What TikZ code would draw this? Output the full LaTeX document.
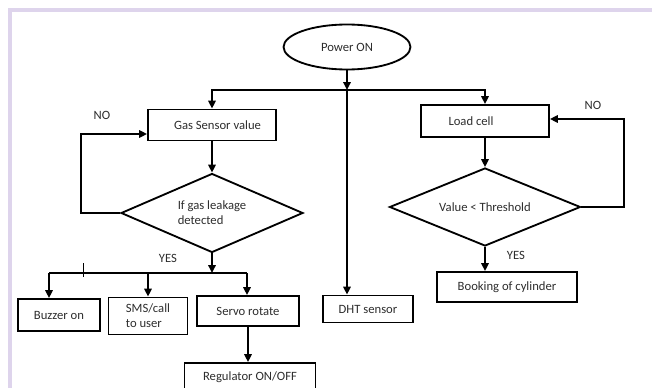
\documentclass[tikz,border=0pt]{standalone}
\usepackage{fontspec}
\setmainfont{Carlito}
\usetikzlibrary{shapes.geometric,arrows.meta}
\definecolor{framelilac}{RGB}{222,212,236}
\definecolor{inkgray}{RGB}{45,45,45}
\newcommand{\flowfont}{\fontsize{7.2}{8.6}\selectfont}

\begin{document}
\begin{tikzpicture}[x=0.02cm, y=-0.02cm,
  every node/.style={font=\flowfont, text=inkgray},
  box/.style={draw, line width=1.05pt, inner sep=1pt},
  decision/.style={draw, diamond, line width=1.05pt, inner sep=0pt, align=left},
  arrow/.style={line width=1.05pt, -{Triangle[length=4.5pt,width=4.2pt]}},
  line/.style={line width=1.05pt}]

\useasboundingbox (0,0) rectangle (652,388);
\clip (0,0) rectangle (652,388);

% page frame
\draw[framelilac, line width=1.8pt] (652,10) -- (10,10) -- (10,388);

\node[draw, ellipse, line width=1.05pt, minimum width=2.54cm, minimum height=0.9cm] (power) at (347,47) {Power ON};

\node[box, minimum width=2.56cm, minimum height=0.62cm] (gas) at (212,125) {\hspace*{0.22cm}Gas Sensor value};
\node[box, minimum width=2.56cm, minimum height=0.64cm] (load) at (485,121) {Load cell\hspace*{0.56cm}};

\node[decision, aspect=2.3, minimum width=3.64cm, minimum height=1.58cm] (gasq) at (212,213) {If gas leakage\\detected};
\node[decision, aspect=2.4, minimum width=3.82cm, minimum height=1.56cm] (loadq) at (485,207) {Value < Threshold};

\node[box, minimum width=1.64cm, minimum height=0.64cm] (buzzer) at (59,315) {Buzzer on};
\node[box, minimum width=1.58cm, minimum height=0.74cm, align=left] (sms) at (148,316) {SMS/call\\to user};
\node[box, minimum width=2.04cm, minimum height=0.6cm] (servo) at (248,311) {Servo rotate};
\node[box, minimum width=1.8cm, minimum height=0.54cm] (dht) at (368,309) {DHT sensor};
\node[box, minimum width=2.8cm, minimum height=0.6cm] (booking) at (507,287) {Booking of cylinder};
\node[box, minimum width=2.62cm, minimum height=0.56cm] (reg) at (250,377) {Regulator ON/OFF};

% labels
\node (noGas) at (102,115) {NO};
\node (noLoad) at (593,105) {NO};
\node (yesGas) at (168,258) {YES};
\node (yesLoad) at (516,255) {YES};

\coordinate (split) at (347,90);
\coordinate (gasNO) at (81,134);
\coordinate (loadNO) at (624,119);
\coordinate (yesbar) at (212,273);
\coordinate (barL) at (49,273);
\coordinate (barR) at (247,273);

\draw[arrow] (power.south) -- (split);
\draw[arrow] (split) -| (gas.north);
\draw[arrow] (split) -| (load.north);
\draw[arrow] (split) -- (split |- dht.north);

\draw[arrow] (gas.south) -- (gasq.north);
\draw[arrow] (gasq.west) -| (gasNO) -- (gasNO -| gas.west);
\draw[arrow] (load.south) -- (loadq.north);
\draw[arrow] (loadq.east) -| (loadNO) -- (loadNO -| load.east);
\draw[arrow] (loadq.south) -- (loadq.south |- booking.north);

\draw[arrow] (gasq.south) -- (yesbar);
\draw[line] (barL) -- (barR);
\draw[line width=0.5pt] (83,263) -- (83,277);
\draw[arrow] (barL) -- (barL |- buzzer.north);
\draw[arrow] (barL -| sms.north) -- (sms.north);
\draw[arrow] (barR) -- (barR |- servo.north);
\draw[arrow] (servo.south) -- (servo.south |- reg.north);

\end{tikzpicture}
\end{document}
